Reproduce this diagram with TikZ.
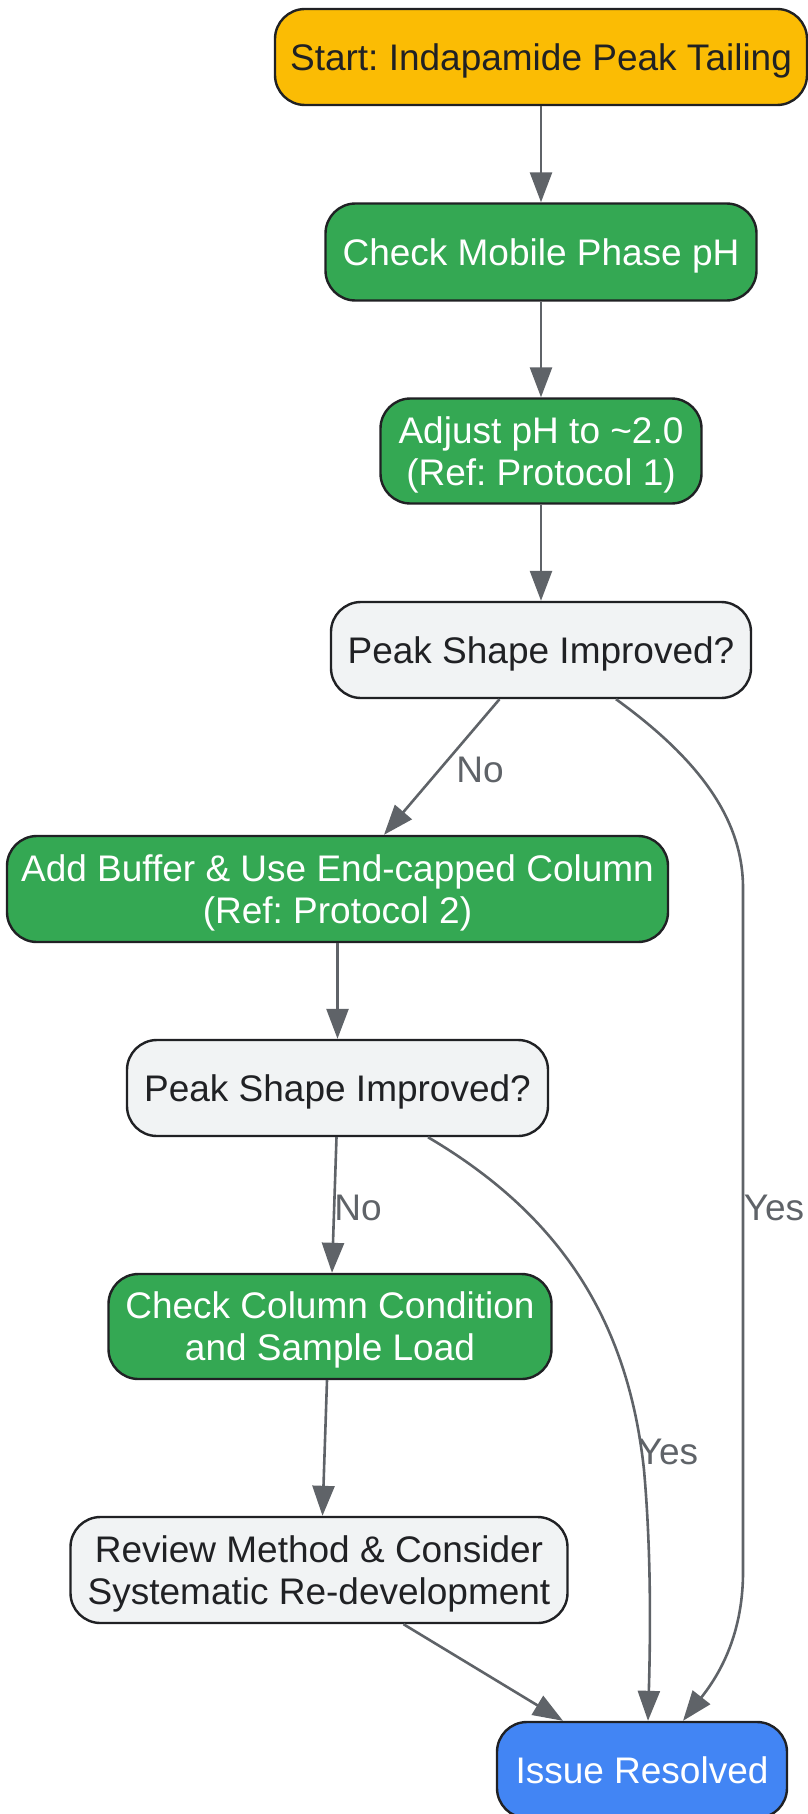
\documentclass[tikz,border=0pt]{standalone}
\usepackage{fontspec}
\setmainfont{Liberation Sans}
\usetikzlibrary{arrows.meta}
\definecolor{amber}{HTML}{FBBC04}
\definecolor{ggreen}{HTML}{34A853}
\definecolor{gblue}{HTML}{4285F4}
\definecolor{lgray}{HTML}{F1F3F4}
\definecolor{bord}{HTML}{202124}
\definecolor{edgec}{HTML}{5F6368}
\newcommand\boxtext[1]{\raisebox{-5pt}[\height][\depth]{\begin{tabular}{@{}c@{}}#1\end{tabular}}}
\tikzset{
  box/.style={draw=bord, line width=2.4pt, rounded corners=30pt, align=center,
    inner sep=0pt, font=\fontsize{37}{42}\selectfont\frenchspacing},
  startbox/.style={box, fill=amber, text=bord},
  greenbox/.style={box, fill=ggreen, text=white},
  graybox/.style={box, fill=lgray, text=bord},
  bluebox/.style={box, fill=gblue, text=white},
  edge/.style={draw=edgec, line width=2.6pt, -{Triangle[length=30pt,width=22pt]}},
  elabel/.style={text=edgec, font=\fontsize{37}{42}\selectfont, inner sep=0pt}
}
\begin{document}
\begin{tikzpicture}[x=1pt,y=-1pt]
\useasboundingbox (0,0) rectangle (807,1814);
\node[startbox, minimum width=532pt, minimum height=96pt] (start) at (541,57) {\boxtext{Start: Indapamide Peak Tailing}};
\node[greenbox, minimum width=431pt, minimum height=97pt] (check) at (541,252) {\boxtext{Check Mobile Phase pH}};
\node[greenbox, minimum width=321pt, minimum height=105pt] (adjust) at (541,451) {\boxtext{Adjust pH to \textasciitilde 2.0\\(Ref: Protocol 1)}};
\node[graybox, minimum width=420pt, minimum height=96pt] (psi1) at (541,650) {\boxtext{Peak Shape Improved?}};
\node[greenbox, minimum width=661pt, minimum height=106pt] (add) at (337.5,889) {\boxtext{Add Buffer \& Use End-capped Column\\(Ref: Protocol 2)}};
\node[graybox, minimum width=421pt, minimum height=96pt] (psi2) at (337.5,1088) {\boxtext{Peak Shape Improved?}};
\node[greenbox, minimum width=443pt, minimum height=105pt] (col) at (330,1326.5) {\boxtext{Check Column Condition\\and Sample Load}};
\node[graybox, minimum width=497pt, minimum height=106pt] (review) at (319,1570) {\boxtext{Review Method \& Consider\\Systematic Re-development}};
\node[bluebox, minimum width=290pt, minimum height=96pt] (issue) at (642,1770) {\boxtext{Issue Resolved}};

\coordinate (y1a) at (743,888);
\coordinate (y1b) at (743,1572);
\coordinate (y2m) at (644,1470);

\draw[edge] (start.south) -- (check.north);
\draw[edge] (check.south) -- (adjust.north);
\draw[edge] (adjust.south) -- (psi1.north);
\draw[edge] ([xshift=-41.5pt]psi1.south) -- ([xshift=46.5pt]add.north);
\draw[edge] ([xshift=75pt]psi1.south) .. controls (700,760) and (743,820) .. (y1a) -- (y1b)
  .. controls (743,1640) and (715,1680) .. ([xshift=41pt]issue.north);
\draw[edge] (add.south) -- (psi2.north);
\draw[edge] ([xshift=-1pt]psi2.south) -- ([xshift=2pt]col.north);
\draw[edge] ([xshift=90.5pt]psi2.south) .. controls (560,1215) and (628,1320) .. (y2m)
  .. controls (652,1560) and (650,1650) .. ([xshift=6pt]issue.north);
\draw[edge] ([xshift=-3pt]col.south) -- ([xshift=3.5pt]review.north);
\draw[edge] ([xshift=84.5pt]review.south) -- ([xshift=-79pt]issue.north);

\node[elabel] (lno1) at (480,770) {No};
\node[elabel] (lyes1) at (774,1208) {Yes};
\node[elabel] (lno2) at (358,1208) {No};
\node[elabel] (lyes2) at (668,1452) {Yes};
\end{tikzpicture}
\end{document}
